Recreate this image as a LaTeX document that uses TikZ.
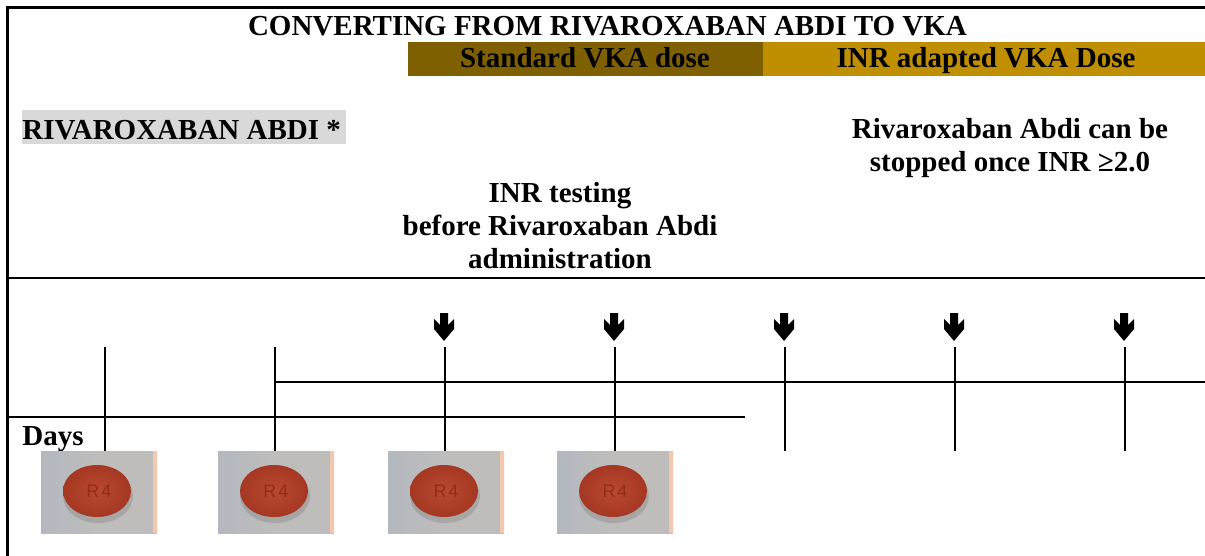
\documentclass[tikz,border=0pt]{standalone}
\usepackage{fontspec}
\setmainfont{Liberation Serif}
\newfontfamily\pillfont{Liberation Sans}
\definecolor{darkbar}{HTML}{7F6000}
\definecolor{goldbar}{HTML}{BF8F00}
\definecolor{hlgray}{HTML}{D9D9D9}
\definecolor{pillbg}{HTML}{BFBDBC}
\definecolor{pillbgl}{HTML}{B3B8BF}
\definecolor{pillred}{HTML}{B3412A}
\definecolor{pillredin}{HTML}{BA4830}
\definecolor{pillredout}{HTML}{A53823}
\definecolor{pillmark}{HTML}{8E2D1A}
\definecolor{peach}{HTML}{F2C8AE}
\tikzset{
  lbl/.style={font=\fontsize{14.5}{16.5}\selectfont\bfseries, inner sep=0pt, align=center},
  rulestyle/.style={line width=1.1pt, black},
  tickline/.style={line width=1pt, black},
  bartext/.style={lbl, anchor=base},
  pics/pill/.style={code={
    \shade[left color=pillbgl, right color=pillbg, middle color=pillbg] (0,0) rectangle (116,82);
    \fill[peach] (112,0) rectangle (116,82);
    \fill[black, opacity=0.12] (57,45) ellipse [x radius=17.5pt, y radius=13.5pt];
    \shade[inner color=pillredin, outer color=pillredout] (56,40) ellipse [x radius=17pt, y radius=13pt];
    \node[text=pillmark, font=\pillfont\fontsize{9}{9}\selectfont, inner sep=0pt] at (58,40) {R\kern1pt 4};
  }},
  pics/downarrow/.style={code={
    \fill[black] (-4,0) -- (4,0) -- (4,12) -- (10,6) -- (10,16) -- (0,28)
      -- (-10,16) -- (-10,6) -- (-4,12) -- cycle;
  }}
}
\begin{document}
\begin{tikzpicture}[x=0.5pt,y=-0.5pt]
\useasboundingbox (0,0) rectangle (1205,556);
\fill[white] (0,0) rectangle (1205,556);

% frame
\coordinate (tl) at (7.5,7.5);
\coordinate (tr) at (1206,7.5);
\coordinate (bl) at (7.5,557);
\draw[rulestyle] (tr) -- (tl) -- (bl);

% title
\node[bartext] (title) at (607.5,36) {CONVERTING FROM RIVAROXABAN ABDI TO VKA};

% bars
\fill[darkbar] (408,42) rectangle (763,76);
\fill[goldbar] (763,42) rectangle (1205,76);
\node[bartext] (std) at (585,68) {Standard VKA dose};
\node[bartext] (inr) at (986,68) {INR adapted VKA Dose};

% labels
\node[lbl, anchor=base west, fill=hlgray, text height=15pt, text depth=2pt] (riva) at (22,140) {RIVAROXABAN ABDI *\hspace{2.5pt}};
\node[lbl, anchor=north] (stop) at (1010,118) {Rivaroxaban Abdi can be\\stopped once INR ≥2.0};
\node[lbl, anchor=north] (test) at (560,182) {INR testing\\before Rivaroxaban Abdi\\administration};

% separator
\coordinate (sepL) at (7.5,278);
\coordinate (sepR) at (1206,278);
\draw[rulestyle] (sepL) -- (sepR);

% ticks
\foreach \i/\x in {1/105,2/275,3/445,4/615,5/785,6/955,7/1125}{
  \coordinate (t\i) at (\x,347);
  \coordinate (b\i) at (\x,451);
  \draw[tickline] (t\i) -- (b\i);
}
\foreach \i/\x in {3/445,4/615,5/785,6/955,7/1125}{
  \pic (arr\i) at (\x-1,313) {downarrow};
}

% horizontal timeline lines
\coordinate (upR) at (1206,382);
\coordinate (upL) at (275,382);
\draw[tickline] (upL) -- (upR);
\coordinate (loL) at (7.5,417);
\coordinate (loR) at (745,417);
\draw[tickline] (loL) -- (loR);

\node[lbl, anchor=base west] (days) at (22,445) {Days};

% pills
\pic (p1) at (41,451) {pill};
\pic (p2) at (218,451) {pill};
\pic (p3) at (388,451) {pill};
\pic (p4) at (557,451) {pill};
\end{tikzpicture}
\end{document}
